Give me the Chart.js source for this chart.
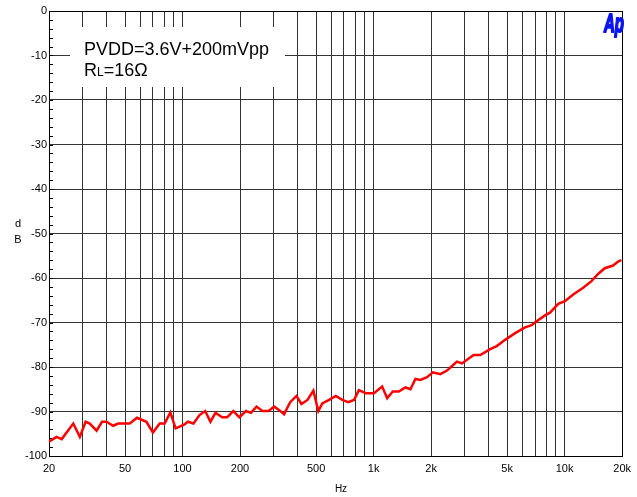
<!DOCTYPE html>
<html>
<head>
<meta charset="utf-8">
<script src="https://cdn.jsdelivr.net/npm/chart.js@4"></script>
<style>
  html, body { margin: 0; padding: 0; background: #fff; }
  #wrap { width: 637px; height: 497px; }
</style>
</head>
<body>
<div id="wrap"><canvas id="c" width="637" height="497"></canvas></div>
<script>
// PSRR vs frequency
const freqs = [20, 21.9, 23.3, 26.8, 29, 31.1, 32.7, 35.5, 37.9, 40, 43.3, 46, 52.9, 57.8, 64.7, 70, 75.9, 80.6, 86.3, 92,
  96.5, 102.4, 106.6, 114.1, 122.7, 131.4, 140, 148.7, 161.1, 171.1, 184.5, 198.3, 215, 228, 244, 262, 282, 302, 321, 340,
  366, 395, 419, 451, 484, 514, 539, 585, 634, 686, 737, 790, 838, 909, 1004, 1109, 1178, 1261, 1355, 1468,
  1560, 1656, 1759, 1904, 2046, 2236, 2422, 2602, 2730, 2900, 3338, 3617, 4078, 4414, 4882, 5506, 6208, 6720, 7136, 7896,
  8384, 9262, 10036, 11090, 12506, 13818, 14972, 16226, 17934, 19042, 19812];
const psrr = [-96.8, -95.7, -96.2, -92.7, -95.7, -92.3, -92.7, -94.3, -92.3, -92.3, -93.2, -92.7, -92.7, -91.4, -92.3, -94.7, -92.7, -92.7, -90.2, -93.8,
  -93.4, -92.9, -92.3, -92.7, -90.8, -89.9, -92.3, -90.3, -91.3, -91.3, -89.9, -91.3, -89.9, -90.3, -88.9, -89.9, -89.9, -88.9, -89.7, -90.6,
  -87.9, -86.5, -88.3, -87.4, -85.3, -89.9, -88.2, -87.4, -86.5, -87.4, -87.9, -87.4, -85.2, -85.9, -85.9, -84.4, -87.0, -85.5, -85.5, -84.6,
  -85.0, -82.7, -82.9, -82.3, -81.2, -81.6, -80.8, -79.6, -78.8, -79.2, -77.3, -77.3, -76.0, -75.3, -73.9, -72.4, -71.1, -70.6, -69.7, -68.4,
  -67.8, -65.8, -65.2, -63.7, -62.2, -60.7, -59.1, -57.8, -57.2, -56.3, -56.0];

const xGridValues = [];
[10, 100, 1000, 10000].forEach(d => {
  for (let m = 1; m <= 9; m++) {
    const v = d * m;
    if (v >= 20 && v <= 20000) xGridValues.push(v);
  }
});
const xTickLabels = { 20: '20', 50: '50', 100: '100', 200: '200', 500: '500', 1000: '1k', 2000: '2k', 5000: '5k', 10000: '10k', 20000: '20k' };
const yTickLabels = ['0', '-10', '-20', '-30', '-40', '-50', '-60', '-70', '-80', '-90', '-100'];

const FONT = 'Arial, "Liberation Sans", sans-serif';

const decor = {
  id: 'decor',
  beforeDatasetsDraw(chart) {
    const ctx = chart.ctx;
    const a = chart.chartArea;
    const y = chart.scales.y;
    ctx.save();
    // minor ticks on the left axis, every 2 dB
    ctx.strokeStyle = '#000';
    ctx.lineWidth = 1;
    for (let v = 0; v >= -100; v -= 2) {
      const py = Math.round(y.getPixelForValue(v)) + 0.5;
      ctx.beginPath();
      ctx.moveTo(a.left, py);
      ctx.lineTo(a.left + 4, py);
      ctx.stroke();
    }
    // label box
    ctx.fillStyle = '#fff';
    ctx.fillRect(70, 27, 215, 60);
    ctx.fillStyle = '#000';
    ctx.textBaseline = 'alphabetic';
    ctx.font = '18px ' + FONT;
    ctx.fillText('PVDD=3.6V+200mVpp', 84, 55);
    ctx.fillText('R', 84, 76);
    let w = ctx.measureText('R').width;
    ctx.font = '12px ' + FONT;
    ctx.fillText('L', 84 + w, 76);
    w += ctx.measureText('L').width;
    ctx.font = '18px ' + FONT;
    ctx.fillText('=16Ω', 84 + w, 76);
    // frame
    ctx.strokeStyle = '#000';
    ctx.strokeRect(Math.round(a.left) + 0.5, Math.round(a.top) + 0.5,
      Math.round(a.right - a.left), Math.round(a.bottom - a.top));
    ctx.restore();
  },
  afterDraw(chart) {
    const ctx = chart.ctx;
    ctx.save();
    ctx.fillStyle = '#000';
    ctx.font = '11px ' + FONT;
    ctx.textAlign = 'center';
    ctx.textBaseline = 'middle';
    ctx.fillText('d', 18, 224);
    ctx.fillText('B', 18, 240);
    ctx.font = '10px ' + FONT;
    ctx.fillText('Hz', 341, 489);
    // AP logo, squeezed and heavy
    ctx.fillStyle = '#0a14f0';
    ctx.strokeStyle = '#0a14f0';
    ctx.lineWidth = 2;
    ctx.lineJoin = 'round';
    ctx.font = 'italic bold 25px ' + FONT;
    ctx.textAlign = 'left';
    ctx.textBaseline = 'alphabetic';
    ctx.translate(604, 32);
    ctx.scale(0.6, 1);
    ctx.strokeText('Ap', 0, 0);
    ctx.fillText('Ap', 0, 0);
    ctx.restore();
  }
};

new Chart(document.getElementById('c'), {
  type: 'scatter',
  data: {
    datasets: [{
      data: freqs.map((f, i) => ({ x: f, y: psrr[i] })),
      showLine: true,
      borderColor: '#ff0000',
      borderWidth: 2.5,
      pointRadius: 0,
      tension: 0
    }]
  },
  options: {
    responsive: false,
    devicePixelRatio: 1,
    animation: false,
    layout: { padding: { left: 0, right: 12, top: 11, bottom: 0 } },
    plugins: { legend: { display: false }, tooltip: { enabled: false } },
    scales: {
      x: {
        type: 'logarithmic',
        min: 20,
        max: 20000,
        afterBuildTicks: s => { s.ticks = xGridValues.map(v => ({ value: v })); },
        afterFit: s => { s.height = 41; },
        grid: { color: '#333', lineWidth: 1, drawTicks: false },
        border: { color: '#000' },
        ticks: {
          autoSkip: false,
          maxRotation: 0,
          padding: 6,
          color: '#000',
          font: { family: FONT, size: 11 },
          callback: v => xTickLabels[v] || ''
        }
      },
      y: {
        min: -100,
        max: 0,
        afterBuildTicks: s => {
          s.ticks = yTickLabels.map((t, i) => ({ value: -10 * i }));
        },
        afterFit: s => { s.width = 49; },
        grid: { color: '#333', lineWidth: 1, drawTicks: false },
        border: { color: '#000' },
        ticks: {
          padding: 2,
          color: '#000',
          font: { family: FONT, size: 11 },
          callback: (v, i) => yTickLabels[Math.round(-v / 10)]
        }
      }
    }
  },
  plugins: [decor]
});
</script>
</body>
</html>
